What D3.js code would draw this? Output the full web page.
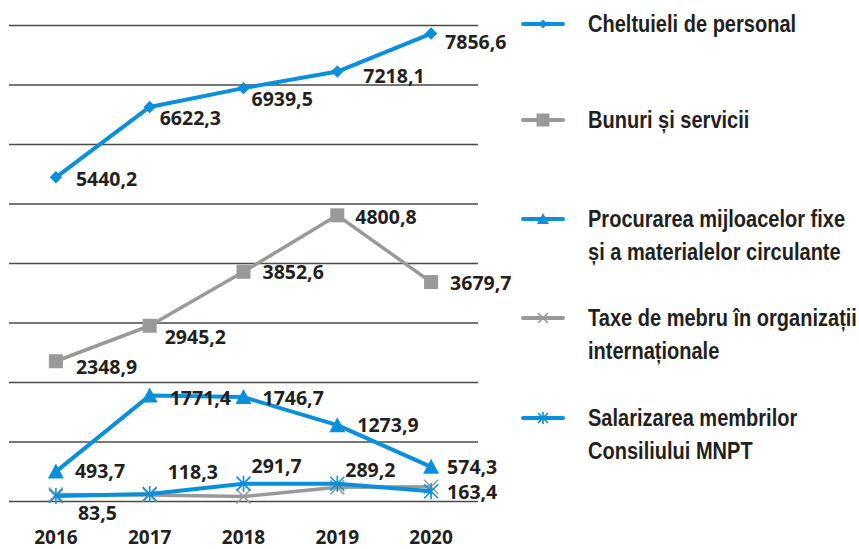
<!DOCTYPE html>
<meta charset="utf-8">
<style>
    body { margin: 0; background: #fff; }
    .grid line { stroke: #4a4a4a; stroke-width: 1.3px; }
    .grid path { display: none; }
    .series-line { fill: none; stroke-linejoin: round; }
    .value-label { font-family: "Open Sans", sans-serif; font-weight: 700; font-size: 19.5px; fill: #231f20; }
    .year-label { font-family: "Open Sans", sans-serif; font-weight: 700; font-size: 19px; fill: #231f20; }
    .legend-text { font-family: "Liberation Sans", Arial, sans-serif; font-weight: bold; font-size: 24px; fill: #231f20; }
</style>
<svg width="859" height="549"></svg>
<script src="https://d3js.org/d3.v7.min.js"></script>
<script>
    // Data
    const years = ["2016", "2017", "2018", "2019", "2020"];
    const seriesNames = [
        "Cheltuieli de personal",
        "Bunuri și servicii",
        "Procurarea mijloacelor fixe și a materialelor circulante",
        "Taxe de mebru în organizații internaționale",
        "Salarizarea membrilor Consiliului MNPT"
    ];
    const personal = [5440.2, 6622.3, 6939.5, 7218.1, 7856.6];
    const bunuri = [2348.9, 2945.2, 3852.6, 4800.8, 3679.7];
    const procurarea = [493.7, 1771.4, 1746.7, 1273.9, 574.3];
    const taxe = [110, 100, 75, 230, 240];          // no labels shown
    const salarizarea = [83.5, 118.3, 291.7, 289.2, 163.4];
    const yTicks = [0, 1000, 2000, 3000, 4000, 5000, 6000, 7000, 8000];

    // legend text split in lines as in the picture
    const legendLines = [
        ["Cheltuieli de personal"],
        ["Bunuri și servicii"],
        ["Procurarea mijloacelor fixe", "și a materialelor circulante"],
        ["Taxe de mebru în organizații", "internaționale"],
        ["Salarizarea membrilor", "Consiliului MNPT"]
    ];

    const blue = "#0a8fdc", gray = "#999999";
    const series = [
        { name: seriesNames[0], values: personal, color: blue, symbol: "diamond", width: 4, labels: true },
        { name: seriesNames[1], values: bunuri, color: gray, symbol: "square", width: 3.5, labels: true },
        { name: seriesNames[2], values: procurarea, color: blue, symbol: "triangle", width: 4, labels: true },
        { name: seriesNames[3], values: taxe, color: gray, symbol: "cross", width: 3.5, labels: false },
        { name: seriesNames[4], values: salarizarea, color: blue, symbol: "star", width: 4, labels: true }
    ];

    // label placement: [dx from marker to text start, dy from marker to text middle]
    const labelNudge = [
        [[20, 2], [10, 11], [8, 11], [26, 4], [14, 8]],
        [[20, 6], [15, 11], [19, 0], [18, 2], [19, 1]],
        [[19, -1], [20, 2], [19, 1], [20, 0], [16, 0]],
        null,
        [[22, 17], [18, -22], [8, -18], [8, -14], [16, 1]]
    ];

    const svg = d3.select("svg");
    const plot = { left: 9, right: 478, top: 25, bottom: 501 };

    const x = d3.scalePoint()
        .domain(years)
        .range([plot.left, plot.right])
        .padding(0.5);

    const y = d3.scaleLinear()
        .domain([0, 8000])
        .range([plot.bottom, plot.top]);

    // Gridlines
    svg.append("g")
        .attr("class", "grid")
        .attr("transform", `translate(${plot.left},0)`)
        .call(d3.axisLeft(y).tickValues(yTicks).tickSize(-(plot.right - plot.left)).tickFormat(""));

    // Year labels
    svg.append("g")
        .selectAll("text")
        .data(years)
        .join("text")
        .attr("class", "year-label")
        .attr("x", d => x(d))
        .attr("y", 544)
        .attr("text-anchor", "middle")
        .text(d => d);

    // marker shapes
    function drawMarker(g, symbol, color, size) {
        if (symbol === "diamond") {
            g.append("path").attr("d", d3.symbol(d3.symbolDiamond2, size * size * 0.5)).attr("fill", color);
        } else if (symbol === "square") {
            g.append("rect").attr("x", -size / 2).attr("y", -size / 2)
                .attr("width", size).attr("height", size).attr("fill", color);
        } else if (symbol === "triangle") {
            const h = size;
            g.append("path")
                .attr("d", `M0,${-h / 2 - 1}L${size / 2 + 1},${h / 2}L${-size / 2 - 1},${h / 2}Z`)
                .attr("fill", color);
        } else if (symbol === "cross") {
            const r = size / 2;
            g.append("path").attr("d", `M${-r},${-r}L${r},${r}M${-r},${r}L${r},${-r}`)
                .attr("stroke", color).attr("stroke-width", 1.6);
        } else if (symbol === "star") {
            const r = size / 2;
            g.append("path")
                .attr("d", `M${-r},${-r}L${r},${r}M${-r},${r}L${r},${-r}M0,${-r - 1}L0,${r + 1}`)
                .attr("stroke", color).attr("stroke-width", 1.6);
        }
    }

    const line = d3.line()
        .x((d, i) => x(years[i]))
        .y(d => y(d));

    // draw bottom series first so blue salarizarea sits above the gray one
    const drawOrder = [3, 4, 2, 1, 0];
    drawOrder.forEach(si => {
        const s = series[si];
        svg.append("path")
            .datum(s.values)
            .attr("class", "series-line")
            .attr("stroke", s.color)
            .attr("stroke-width", s.width)
            .attr("d", line);

        s.values.forEach((v, i) => {
            const g = svg.append("g").attr("transform", `translate(${x(years[i])},${y(v)})`);
            drawMarker(g, s.symbol, s.color, 14);
        });
    });

    // value labels
    series.forEach((s, si) => {
        if (!s.labels) return;
        s.values.forEach((v, i) => {
            const [dx, dy] = labelNudge[si][i];
            svg.append("text")
                .attr("class", "value-label")
                .attr("x", x(years[i]) + dx)
                .attr("y", y(v) + dy + 7)
                .text(d3.format(".1f")(v).replace(".", ","));
        });
    });

    // Legend (text squeezed horizontally to look like the narrow face of the original)
    const legend = svg.append("g");
    const legendY = [24, 120, 219, 318, 418];
    series.forEach((s, si) => {
        const cy = legendY[si];
        const item = legend.append("g").attr("transform", `translate(543,${cy})`);
        item.append("line")
            .attr("x1", -20).attr("x2", 20)
            .attr("stroke", s.color)
            .attr("stroke-width", 4)
            .attr("stroke-linecap", "round");
        drawMarker(item, s.symbol, s.color, s.symbol === "square" ? 13 : 10);

        const t = legend.append("text")
            .attr("class", "legend-text")
            .attr("transform", `translate(588,${cy + 8}) scale(0.835,1)`);
        legendLines[si].forEach((ln, li) => {
            t.append("tspan")
                .attr("x", 0)
                .attr("dy", li === 0 ? 0 : 33)
                .text(ln);
        });
    });
</script>
